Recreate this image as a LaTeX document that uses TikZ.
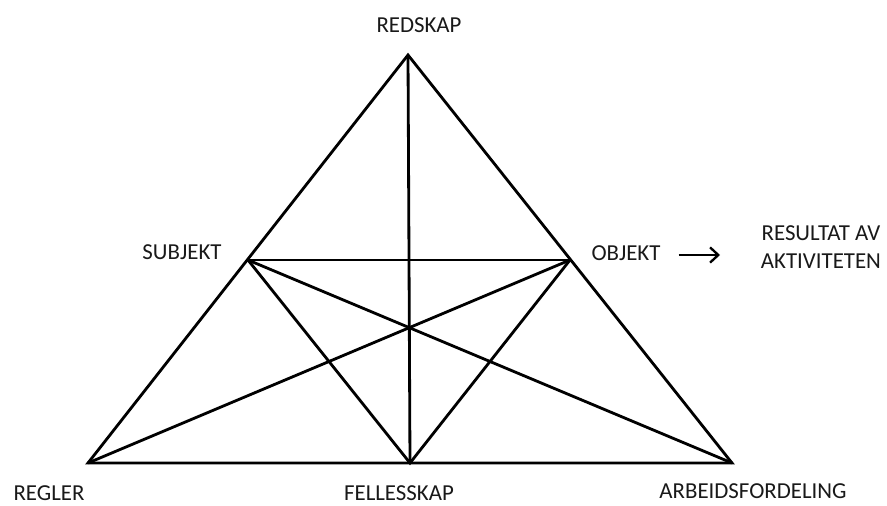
\documentclass[tikz,border=0pt]{standalone}
\usepackage{fontspec}
\setmainfont{Carlito}
\usetikzlibrary{arrows.meta}

\begin{document}
\begin{tikzpicture}[x=0.03cm,y=-0.03cm,>={Straight Barb[length=7pt,width=13pt,line width=2pt]},
                every node/.style={font=\fontsize{19.5}{22}\selectfont,text=black!90},
                kant/.style={line width=2.4pt,line join=miter}]
                \useasboundingbox (0,0) rectangle (887,506);

                \coordinate (topp) at (408,55);
                \coordinate (sub) at (248,260);
                \coordinate (obj) at (570,260);
                \coordinate (vh) at (88,463);
                \coordinate (mh) at (410,463);
                \coordinate (hh) at (732,463);

                \draw[kant] (topp)--(vh)--(hh)--cycle;
                \draw[kant] (topp)--(mh);
                \draw[kant] (sub)--(obj);
                \draw[kant] (sub)--(mh)--(obj);
                \draw[kant] (sub)--(hh);
                \draw[kant] (obj)--(vh);

                \node (lredskap) at (419,25) {REDSKAP};
                \node (lsub) at (182,252) {SUBJEKT};
                \node (lobj) at (626,253) {OBJEKT};
                \node[align=center,inner sep=0pt] (lres) at (821,247) {RESULTAT AV\\[2pt]AKTIVITETEN};
                \node (lregler) at (49,493) {REGLER};
                \node (lfelles) at (399,493) {FELLESSKAP};
                \node (larbeid) at (753,491) {ARBEIDSFORDELING};

                \coordinate (pil) at (720,255);
                \draw[->,line width=2pt,shorten <=12pt] (lobj.east |- pil) -- (pil);
            \end{tikzpicture}
\end{document}
